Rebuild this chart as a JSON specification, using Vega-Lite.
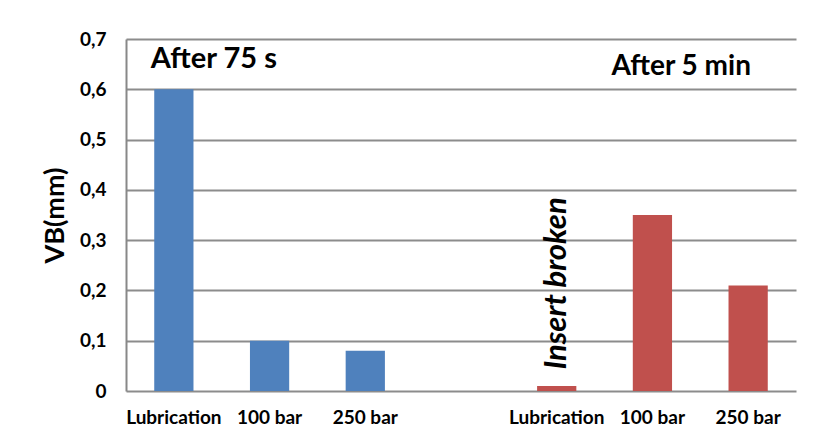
{
  "$schema": "https://vega.github.io/schema/vega-lite/v6.json",
  "width": 670,
  "height": 352,
  "autosize": {"type": "none"},
  "padding": {"left": 126, "top": 39, "right": 30, "bottom": 54},
  "background": "white",
  "config": {
    "view": {"stroke": null},
    "font": "Lato"
  },
  "datasets": {
    "bars": [
      {"key": "Lubrication|1", "group": "75s", "vb": 0.6},
      {"key": "100 bar|1", "group": "75s", "vb": 0.1},
      {"key": "250 bar|1", "group": "75s", "vb": 0.08},
      {"key": "Lubrication|2", "group": "5min", "vb": 0.01},
      {"key": "100 bar|2", "group": "5min", "vb": 0.35},
      {"key": "250 bar|2", "group": "5min", "vb": 0.21}
    ]
  },
  "layer": [
    {
      "data": {"name": "bars"},
      "mark": {"type": "bar"},
      "encoding": {
        "x": {
          "field": "key",
          "type": "nominal",
          "scale": {
            "domain": ["Lubrication|1", "100 bar|1", "250 bar|1", "|gap", "Lubrication|2", "100 bar|2", "250 bar|2"],
            "paddingInner": 0.59,
            "paddingOuter": 0.295
          },
          "axis": {
            "title": null,
            "labelAngle": 0,
            "labelExpr": "split(datum.label, '|')[0]",
            "labelFont": "Lato",
            "labelFontSize": 19,
            "labelFontWeight": "bold",
            "labelColor": "black",
            "labelPadding": 17,
            "ticks": false,
            "domain": false
          }
        },
        "y": {
          "field": "vb",
          "type": "quantitative",
          "scale": {"domain": [0, 0.7], "nice": false},
          "axis": {
            "title": "VB(mm)",
            "titleFont": "Lato",
            "titleFontSize": 27,
            "titleFontWeight": "bold",
            "titleColor": "black",
            "titlePadding": 10,
            "values": [0, 0.1, 0.2, 0.3, 0.4, 0.5, 0.6, 0.7],
            "labelExpr": "datum.value == 0 ? '0' : replace(format(datum.value, '.1f'), '.', ',')",
            "labelFont": "Lato",
            "labelFontSize": 19,
            "labelFontWeight": "bold",
            "labelColor": "black",
            "labelPadding": 20,
            "ticks": false,
            "domain": true,
            "domainColor": "#888888",
            "domainWidth": 2,
            "grid": true,
            "gridColor": "#8c8c8c",
            "gridWidth": 2
          }
        },
        "color": {
          "field": "group",
          "type": "nominal",
          "scale": {"domain": ["75s", "5min"], "range": ["#4F81BD", "#C0504D"]},
          "legend": null
        }
      }
    },
    {
      "data": {"values": [{"key": "Lubrication|1", "vb": 0.643, "t": "After 75 s"}]},
      "mark": {"type": "text", "align": "left", "baseline": "alphabetic", "dx": -23, "font": "Lato", "fontSize": 29, "fontWeight": "bold", "color": "black"},
      "encoding": {
        "x": {"field": "key", "type": "nominal"},
        "y": {"field": "vb", "type": "quantitative"},
        "text": {"field": "t"}
      }
    },
    {
      "data": {"values": [{"key": "100 bar|2", "vb": 0.628, "t": "After 5 min"}]},
      "mark": {"type": "text", "align": "left", "baseline": "alphabetic", "dx": -41, "font": "Lato", "fontSize": 28, "fontWeight": "bold", "color": "black"},
      "encoding": {
        "x": {"field": "key", "type": "nominal"},
        "y": {"field": "vb", "type": "quantitative"},
        "text": {"field": "t"}
      }
    },
    {
      "data": {"values": [{"key": "Lubrication|2", "vb": 0.2, "t": "Insert broken"}]},
      "mark": {"type": "text", "align": "center", "baseline": "middle", "angle": 270, "dx": 7, "font": "Lato", "fontSize": 31, "fontWeight": "bold", "fontStyle": "italic", "color": "black"},
      "encoding": {
        "x": {"field": "key", "type": "nominal"},
        "y": {"field": "vb", "type": "quantitative"},
        "text": {"field": "t"}
      }
    }
  ]
}
